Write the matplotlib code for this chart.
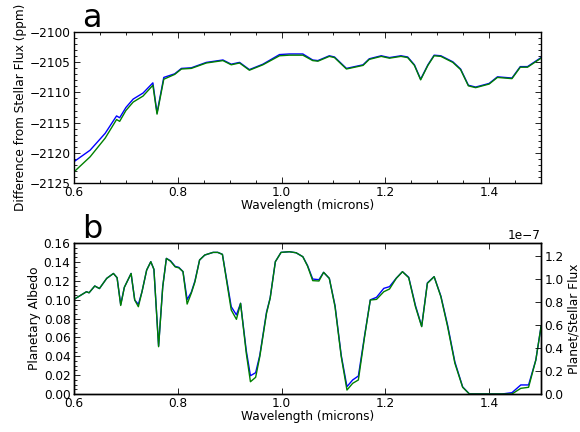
import matplotlib
matplotlib.use("Agg")
import matplotlib.pyplot as plt
from matplotlib.ticker import AutoMinorLocator, MultipleLocator, NullLocator

# ---------------- data ----------------
wl_a = [0.600, 0.631, 0.660, 0.682, 0.688, 0.700, 0.714, 0.733, 0.752, 0.760,
        0.773, 0.794, 0.807, 0.826, 0.855, 0.887, 0.903, 0.919, 0.938, 0.964,
        0.996, 1.015, 1.041, 1.060, 1.070, 1.092, 1.102, 1.125, 1.157, 1.169,
        1.192, 1.208, 1.230, 1.243, 1.256, 1.268, 1.282, 1.294, 1.307, 1.330,
        1.345, 1.360, 1.374, 1.400, 1.416, 1.444, 1.460, 1.474, 1.500]
blue_a = [-2121.5, -2119.6, -2116.8, -2113.9, -2114.2, -2112.5, -2111.1, -2110.1, -2108.4, -2113.4,
          -2107.5, -2106.9, -2106.0, -2105.9, -2105.0, -2104.6, -2105.3, -2105.0, -2106.2, -2105.3,
          -2103.7, -2103.6, -2103.6, -2104.6, -2104.7, -2103.9, -2104.1, -2106.0, -2105.4, -2104.4,
          -2103.9, -2104.2, -2103.9, -2104.1, -2105.4, -2107.8, -2105.4, -2103.8, -2103.9, -2104.9,
          -2106.1, -2108.8, -2109.1, -2108.5, -2107.4, -2107.6, -2105.7, -2105.7, -2104.2]
green_a = [-2123.2, -2120.7, -2117.6, -2114.5, -2114.8, -2113.0, -2111.6, -2110.6, -2108.8, -2113.6,
           -2107.8, -2107.0, -2106.1, -2106.0, -2105.1, -2104.7, -2105.4, -2105.1, -2106.3, -2105.4,
           -2103.9, -2103.8, -2103.8, -2104.7, -2104.8, -2104.0, -2104.2, -2106.1, -2105.5, -2104.5,
           -2104.0, -2104.3, -2104.0, -2104.2, -2105.5, -2107.9, -2105.5, -2103.9, -2104.0, -2105.0,
           -2106.2, -2108.9, -2109.2, -2108.6, -2107.5, -2107.7, -2105.8, -2105.8, -2104.3]

wl_b = [0.600, 0.624, 0.629, 0.640, 0.649, 0.663, 0.676, 0.683, 0.690, 0.697,
        0.710, 0.717, 0.724, 0.731, 0.740, 0.748, 0.754, 0.763, 0.771, 0.778,
        0.786, 0.795, 0.802, 0.810, 0.818, 0.826, 0.833, 0.842, 0.852, 0.868,
        0.877, 0.886, 0.903, 0.913, 0.921, 0.932, 0.940, 0.950, 0.958, 0.971,
        0.978, 0.988, 0.999, 1.015, 1.028, 1.041, 1.050, 1.060, 1.072, 1.081,
        1.092, 1.103, 1.115, 1.126, 1.137, 1.148, 1.160, 1.171, 1.183, 1.197,
        1.208, 1.221, 1.233, 1.245, 1.258, 1.270, 1.281, 1.294, 1.307, 1.320,
        1.334, 1.349, 1.362, 1.425, 1.444, 1.461, 1.476, 1.490, 1.500]
blue_b = [0.1005, 0.1086, 0.1075, 0.1147, 0.1120, 0.1228, 0.1280, 0.1235, 0.0950, 0.1133,
          0.1280, 0.0998, 0.0952, 0.1086, 0.1316, 0.1405, 0.1324, 0.0510, 0.1140, 0.1440,
          0.1415, 0.1355, 0.1345, 0.1300, 0.1003, 0.1080, 0.1200, 0.1423, 0.1476, 0.1504,
          0.1504, 0.1483, 0.0927, 0.0840, 0.0963, 0.0460, 0.0194, 0.0226, 0.0410, 0.0870,
          0.1020, 0.1405, 0.1504, 0.1511, 0.1500, 0.1458, 0.1365, 0.1221, 0.1214, 0.1292,
          0.1228, 0.0940, 0.0410, 0.0078, 0.0149, 0.0191, 0.0620, 0.1000, 0.1027, 0.1122,
          0.1140, 0.1230, 0.1299, 0.1240, 0.0940, 0.0720, 0.1180, 0.1246, 0.1040, 0.0730,
          0.0340, 0.0075, 0.0000, 0.0000, 0.0014, 0.0096, 0.0096, 0.0361, 0.0715]
green_b = [0.1005, 0.1086, 0.1075, 0.1147, 0.1120, 0.1228, 0.1280, 0.1235, 0.0940, 0.1133,
           0.1280, 0.0998, 0.0927, 0.1086, 0.1316, 0.1405, 0.1324, 0.0502, 0.1140, 0.1440,
           0.1410, 0.1350, 0.1340, 0.1300, 0.0955, 0.1070, 0.1190, 0.1423, 0.1476, 0.1504,
           0.1504, 0.1483, 0.0892, 0.0793, 0.0963, 0.0432, 0.0130, 0.0177, 0.0396, 0.0857,
           0.1016, 0.1405, 0.1504, 0.1511, 0.1500, 0.1458, 0.1359, 0.1204, 0.1200, 0.1292,
           0.1228, 0.0927, 0.0396, 0.0042, 0.0113, 0.0149, 0.0609, 0.0998, 0.1005, 0.1086,
           0.1115, 0.1228, 0.1299, 0.1235, 0.0927, 0.0715, 0.1175, 0.1246, 0.1033, 0.0715,
           0.0326, 0.0071, 0.0000, 0.0000, 0.0000, 0.0060, 0.0071, 0.0361, 0.0715]

# conversion albedo -> planet/stellar flux for the right axis
flux_per_albedo = 8.19e-7

# ---------------- style ----------------
plt.rcParams.update({
    "font.family": "DejaVu Sans",
    "font.size": 8.7,
    "xtick.direction": "in",
    "ytick.direction": "in",
    "xtick.top": True,
    "ytick.right": True,
    "xtick.major.size": 4,
    "ytick.major.size": 4,
    "xtick.minor.size": 2,
    "ytick.minor.size": 2,
    "xtick.major.width": 0.6,
    "ytick.major.width": 0.6,
    "xtick.minor.width": 0.6,
    "ytick.minor.width": 0.6,
    "xtick.major.pad": 2.5,
    "ytick.major.pad": 2.5,
    "axes.linewidth": 1.0,
    "axes.unicode_minus": True,
})

fig = plt.figure(figsize=(5.8, 4.32), dpi=100)
ax1 = fig.add_axes([0.1276, 0.5771, 0.8052, 0.3481])
ax2 = fig.add_axes([0.1276, 0.0880, 0.8052, 0.3487])

# Panel a
ax1.plot(wl_a, blue_a, color="b", lw=1.0)
ax1.plot(wl_a, green_a, color="g", lw=1.0)
ax1.set_xlim(0.6, 1.5)
ax1.set_ylim(-2125, -2100)
ax1.xaxis.set_major_locator(MultipleLocator(0.2))
ax1.yaxis.set_major_locator(MultipleLocator(5))
ax1.xaxis.set_minor_locator(AutoMinorLocator(4))
ax1.yaxis.set_minor_locator(AutoMinorLocator(5))
ax1.set_xlabel("Wavelength (microns)", labelpad=0)
ax1.set_ylabel("Difference from Stellar Flux (ppm)", labelpad=2)
ax1.text(0.018, 1.035, "a", transform=ax1.transAxes, fontsize=23,
         va="baseline", ha="left")

# Panel b
ax2.plot(wl_b, blue_b, color="b", lw=1.0)
ax2.plot(wl_b, green_b, color="g", lw=1.0)
ax2.set_xlim(0.6, 1.5)
ax2.set_ylim(0.0, 0.16)
ax2.xaxis.set_major_locator(MultipleLocator(0.2))
ax2.yaxis.set_major_locator(MultipleLocator(0.02))
ax2.xaxis.set_minor_locator(NullLocator())
ax2.yaxis.set_minor_locator(AutoMinorLocator(4))
ax2.set_xlabel("Wavelength (microns)", labelpad=0)
ax2.set_ylabel("Planetary Albedo", labelpad=2)
ax2.text(0.018, 1.035, "b", transform=ax2.transAxes, fontsize=23,
         va="baseline", ha="left")

ax3 = ax2.twinx()
ax3.set_ylim(0.0, 0.16 * flux_per_albedo)
ax3.yaxis.set_major_locator(MultipleLocator(0.2e-7))
ax3.yaxis.set_minor_locator(NullLocator())
ax3.set_ylabel("Planet/Stellar Flux", labelpad=3)

fig.savefig("out.png", dpi=100, facecolor="white")
